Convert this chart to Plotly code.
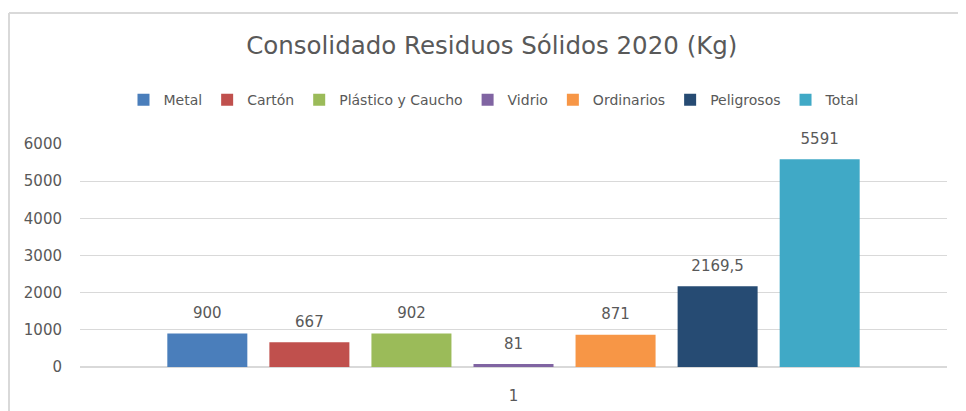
import plotly.graph_objects as go

categories = ["1"]
series_names = ["Metal", "Cartón", "Plástico y Caucho", "Vidrio", "Ordinarios", "Peligrosos", "Total"]
series_values = [900, 667, 902, 81, 871, 2169.5, 5591]
series_labels = ["900", "667", "902", "81", "871", "2169,5", "5591"]
series_colors = ["#4A7EBB", "#C0504D", "#9BBB59", "#8064A2", "#F79646", "#264B73", "#40A9C6"]
y_ticks = [0, 1000, 2000, 3000, 4000, 5000, 6000]

FONT = "'DejaVu Sans', sans-serif"
GRAY = "#595959"

fig = go.Figure()
for name, val, lab, col in zip(series_names, series_values, series_labels, series_colors):
    fig.add_trace(go.Bar(
        x=categories, y=[val], name=name, marker_color=col, marker_line_width=0,
        text=[f"<span style='font-size:15px'>{lab}</span><br>&nbsp;"],
        textposition="outside", cliponaxis=False, constraintext="none",
        textfont=dict(color=GRAY, size=8, family=FONT),
    ))

fig.update_layout(
    width=958, height=403,
    margin=dict(l=72, r=19, t=136, b=44),
    paper_bgcolor="white", plot_bgcolor="white",
    font=dict(family=FONT, color=GRAY, size=14),
    barmode="group", bargap=0.176, bargroupgap=0.216,
    title=dict(text="Consolidado Residuos Sólidos 2020 (Kg)", x=0.505, xanchor="center",
               y=0.906, yanchor="middle", font=dict(size=24.5, color=GRAY, family=FONT)),
    legend=dict(orientation="h", x=0.4775, xanchor="center", y=1.197, yanchor="middle",
                font=dict(size=14, color=GRAY, family=FONT), itemwidth=30,
                traceorder="normal", bgcolor="rgba(0,0,0,0)"),
    showlegend=True,
    yaxis=dict(range=[0, 6000], tickvals=y_ticks, showgrid=True, gridcolor="#D9D9D9",
               gridwidth=1, zeroline=True, zerolinecolor="#D9D9D9", showline=False,
               automargin=False,
               ticks="", ticklabelstandoff=17, tickfont=dict(size=15, color=GRAY, family=FONT)),
    xaxis=dict(showgrid=False, showline=False, ticks="", ticklabelstandoff=18, automargin=False,
               tickfont=dict(size=15, color=GRAY, family=FONT)),
    shapes=[
        dict(type="line", xref="paper", yref="paper", x0=-0.0819, x1=-0.0819, y0=1.587, y1=-0.3,
             line=dict(color="#D9D9D9", width=2)),
        dict(type="line", xref="paper", yref="paper", x0=-0.0819, x1=1.05, y0=1.587, y1=1.587,
             line=dict(color="#D9D9D9", width=2)),
    ],
)

fig.write_html("out.html")
